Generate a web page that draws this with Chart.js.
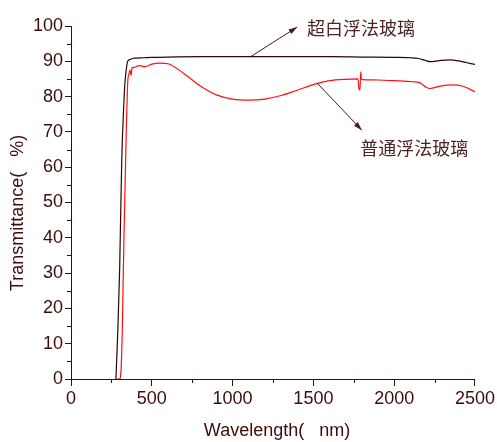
<!DOCTYPE html>
<html>
<head>
<meta charset="utf-8">
<script src="https://cdn.jsdelivr.net/npm/chart.js@4.4.0/dist/chart.umd.min.js"></script>
<style>
    html, body { margin: 0; padding: 0; background: #fff; }
    #wrap { width: 497px; height: 442px; }
</style>
</head>
<body>
<div id="wrap"><canvas id="chart"></canvas></div>
<script>
"use strict";

// 超白浮法玻璃 (ultra-clear float glass)
const clearNm = [278, 290, 301, 314, 325, 334, 343, 351, 365, 380, 400, 450, 500, 600, 800, 1000, 1200, 1400, 1600, 1800, 2000, 2100, 2150, 2190, 2222, 2280, 2345, 2400, 2450, 2500];
const clearT  = [0, 14, 31, 62, 76, 84, 88, 90, 90.5, 90.8, 90.9, 91, 91.1, 91.2, 91.3, 91.3, 91.3, 91.3, 91.3, 91.2, 91.1, 91, 90.8, 90.3, 89.9, 90.2, 90.4, 90.1, 89.6, 89.1];

// 普通浮法玻璃 (ordinary float glass)
const plainNm = [285, 300, 310, 318, 324, 330, 338, 351, 359, 365, 372, 378, 390, 420, 460, 500, 550, 600, 700, 800, 900, 1000, 1100, 1200, 1300, 1400, 1500, 1600, 1700, 1775, 1783, 1788, 1793, 1797, 1805, 1900, 2000, 2116, 2160, 2200, 2222, 2280, 2364, 2420, 2500];
const plainT  = [0, 0, 3, 15, 31, 45, 62, 84, 86.5, 87.5, 86, 88.3, 88.2, 88.8, 88.5, 89.2, 89.5, 89.3, 86.5, 83, 80.5, 79.3, 79, 79.3, 80.3, 81.8, 83.4, 84.5, 84.9, 85, 82, 81.9, 87, 85, 84.8, 84.7, 84.5, 84.2, 83.9, 82.6, 82.3, 82.9, 83.3, 83, 81.4];

const xTicks = [0, 500, 1000, 1500, 2000, 2500];
const yTicks = [0, 10, 20, 30, 40, 50, 60, 70, 80, 90, 100];

const axisColor = '#3d0c0c';
const textColor = '#3d0c0c';
const font = { family: 'Liberation Sans, Arial, sans-serif', size: 18 };

/* arrows and labels, placed in data coordinates */
const notes = [
    { text: '超白浮法玻璃', from: [1108, 91.2], to: [1400, 99.7], at: [1460, 99.4] },
    { text: '普通浮法玻璃', from: [1522, 83.9], to: [1800, 70.5], at: [1790, 65.4] }
];

const toPoints = (xs, ys) => xs.map((x, i) => ({ x: x, y: ys[i] }));

/* draws the short minor ticks, axis titles and the annotation arrows. */
const extras = {
    id: 'extras',
    afterDraw(chart) {
        const ctx = chart.ctx;
        const xs = chart.scales.x, ys = chart.scales.y;
        const area = chart.chartArea;
        ctx.save();
        ctx.strokeStyle = axisColor;
        ctx.lineWidth = 1;
        for (let v = 250; v < 2500; v += 500) {
            const px = Math.round(xs.getPixelForValue(v)) + 0.5;
            ctx.beginPath();
            ctx.moveTo(px, area.bottom);
            ctx.lineTo(px, area.bottom + 4);
            ctx.stroke();
        }
        for (let v = 5; v < 100; v += 10) {
            const py = Math.round(ys.getPixelForValue(v)) + 0.5;
            ctx.beginPath();
            ctx.moveTo(area.left, py);
            ctx.lineTo(area.left - 4, py);
            ctx.stroke();
        }

        // axis titles
        ctx.fillStyle = textColor;
        ctx.font = '18px "Liberation Sans", Arial, sans-serif';
        ctx.textAlign = 'center';
        ctx.textBaseline = 'middle';
        ctx.fillText('Wavelength(   nm)', 277, 431);
        ctx.save();
        ctx.translate(18, 213);
        ctx.rotate(-Math.PI / 2);
        ctx.fillText('Transmittance(   %)', 0, 0);
        ctx.restore();

        ctx.strokeStyle = '#4a1818';
        ctx.fillStyle = '#4a1818';
        notes.forEach(n => {
            const x1 = xs.getPixelForValue(n.from[0]), y1 = ys.getPixelForValue(n.from[1]);
            const x2 = xs.getPixelForValue(n.to[0]), y2 = ys.getPixelForValue(n.to[1]);
            const ang = Math.atan2(y2 - y1, x2 - x1);
            ctx.beginPath();
            ctx.moveTo(x1, y1);
            ctx.lineTo(x2, y2);
            ctx.stroke();
            ctx.beginPath();
            ctx.moveTo(x2, y2);
            ctx.lineTo(x2 - 9 * Math.cos(ang - 0.3), y2 - 9 * Math.sin(ang - 0.3));
            ctx.lineTo(x2 - 9 * Math.cos(ang + 0.3), y2 - 9 * Math.sin(ang + 0.3));
            ctx.closePath();
            ctx.fill();

            ctx.fillStyle = '#4e2424';
            ctx.font = '18px "Noto Sans CJK SC", sans-serif';
            ctx.textAlign = 'left';
            ctx.textBaseline = 'middle';
            ctx.fillText(n.text, xs.getPixelForValue(n.at[0]), ys.getPixelForValue(n.at[1]));
            ctx.fillStyle = '#4a1818';
        });
        ctx.restore();
    }
};

new Chart(document.getElementById('chart'), {
    type: 'line',
    data: {
        datasets: [
            {
                label: '超白浮法玻璃',
                data: toPoints(clearNm, clearT),
                borderColor: '#2a0606',
                borderWidth: 1.2,
                pointRadius: 0,
                cubicInterpolationMode: 'monotone'
            },
            {
                label: '普通浮法玻璃',
                data: toPoints(plainNm, plainT),
                borderColor: '#ff1010',
                borderWidth: 1.2,
                pointRadius: 0,
                cubicInterpolationMode: 'monotone'
            }
        ]
    },
    plugins: [extras],
    options: {
        responsive: true,
        maintainAspectRatio: false,
        animation: false,
        layout: { padding: { top: 26, right: 22, left: 0, bottom: 0 } },
        plugins: {
            legend: { display: false },
            tooltip: { enabled: false }
        },
        scales: {
            x: {
                type: 'linear',
                min: 0,
                max: 2500,
                afterBuildTicks: s => { s.ticks = xTicks.map(v => ({ value: v })); },
                afterFit: s => { s.height = 63; },
                border: { color: axisColor, width: 1 },
                grid: { drawOnChartArea: false, color: axisColor, tickLength: 7 },
                ticks: { color: textColor, font: font, padding: 2, maxRotation: 0, callback: v => String(v) }
            },
            y: {
                min: 0,
                max: 100,
                afterBuildTicks: s => { s.ticks = yTicks.map(v => ({ value: v })); },
                afterFit: s => { s.width = 71; },
                border: { color: axisColor, width: 1 },
                grid: { drawOnChartArea: false, color: axisColor, tickLength: 6 },
                ticks: { color: textColor, font: font, padding: 2, callback: v => String(v) }
            }
        }
    }
});
</script>
</body>
</html>
